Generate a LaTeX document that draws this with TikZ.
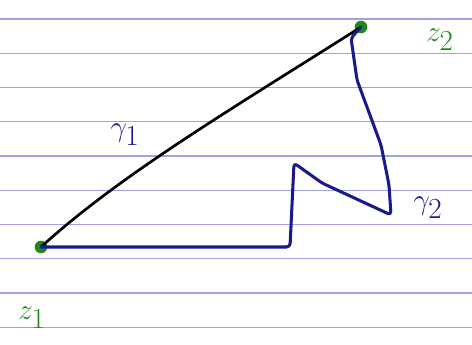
\documentclass[tikz,border=0pt]{standalone}
\usepackage{tikz}
\usetikzlibrary{calc}
\definecolor{ink}{HTML}{1A1A8C}
\definecolor{pen}{HTML}{1E8A1E}
\definecolor{rule}{HTML}{A0A0E4}
\tikzset{
  pt/.style={circle, fill=pen, inner sep=0pt, minimum size=3.8mm},
  lbl/.style={font=\fontsize{40}{44}\selectfont, text=#1},
  lbl/.default=ink,
  chord/.style={line width=2.3pt, line cap=round, line join=round},
  detour/.style={draw=ink, line width=2.6pt, line cap=round, line join=round, rounded corners=3pt},
}

\begin{document}
\begin{tikzpicture}[x=0.03cm, y=-0.03cm]
  \useasboundingbox (0,0) rectangle (472,345);
  \fill[white] (0,0) rectangle (472,345);
  % ruled paper
  \foreach \k in {0,...,9}
    \draw[rule, line width=0.9pt] (0,19+34.25*\k) -- (472,19+34.25*\k);
  % end points
  \node[pt] (z1) at (41,247) {};
  \node[pt] (z2) at (361,27) {};
  \node[lbl=pen] (lz1) at (32,318) {$z_1$};
  \node[lbl=pen] (lz2) at (440,40) {$z_2$};
  % corners of the second path
  \coordinate (b1) at (150,247);
  \coordinate (b2) at (290,247);
  \coordinate (top) at (294,163);
  \coordinate (m1) at (322,183);
  \coordinate (tip) at (391,215);
  \coordinate (r1) at (389,185);
  \coordinate (r2) at (381,145);
  \coordinate (r3) at (367,107);
  \coordinate (r4) at (357,80);
  \draw[chord] (z1.center) .. controls (120,175) and (230,110) .. (z2.center);
  \draw[detour] (z1.center) -- (b1) -- (b2) -- (top) -- (m1) -- (tip) -- (r1) -- (r2) -- (r3) -- (r4) -- (351,38) -- (z2.center);
  \node[lbl] (g1) at (125,135) {$\gamma_1$};
  \node[lbl] (g2) at (428,208) {$\gamma_2$};
\end{tikzpicture}
\end{document}
